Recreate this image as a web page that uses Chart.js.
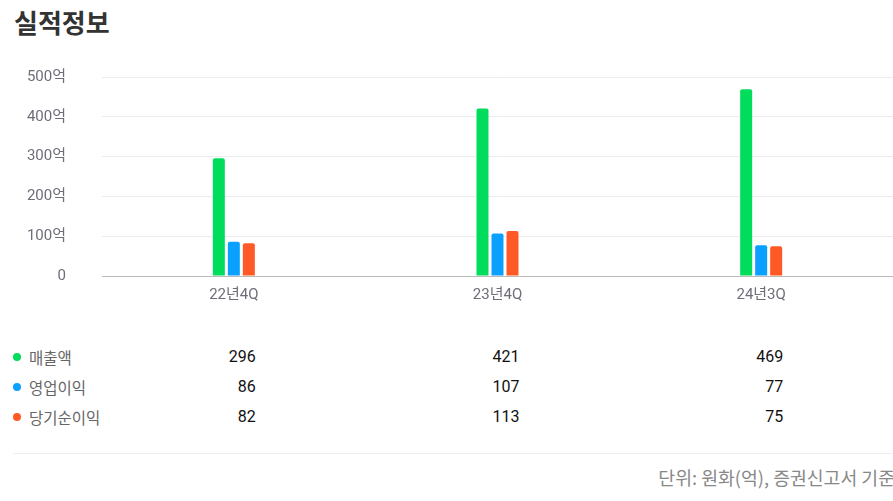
<!DOCTYPE html>
<html><head><meta charset="utf-8">
<script src="https://cdn.jsdelivr.net/npm/chart.js@4.4.1/dist/chart.umd.min.js"></script>
<style>
html,body{margin:0;padding:0;background:#fff;width:893px;height:501px;overflow:hidden;font-family:Roboto,"Noto Sans CJK KR",sans-serif;}
#wrap{position:relative;width:893px;height:501px;}
#title{position:absolute;left:14px;top:4px;font-family:"Noto Sans CJK KR",sans-serif;font-weight:700;font-size:26px;color:#333;margin:0;line-height:36px;}
#cv{position:absolute;left:0;top:0;}
.lab{position:absolute;left:29px;font-family:"Noto Sans CJK KR",sans-serif;font-size:15.5px;color:#666;line-height:20px;}
.dot{position:absolute;left:13px;width:8px;height:8px;border-radius:50%;}
.val{position:absolute;font-family:Roboto,sans-serif;font-size:16px;color:#111;line-height:20px;text-align:right;width:60px;}
#hr{position:absolute;left:13px;right:0;top:453px;height:1px;background:#eee;}
#foot{position:absolute;right:-2px;top:464px;font-family:"Noto Sans CJK KR",sans-serif;font-size:18.3px;color:#888;line-height:26px;white-space:nowrap;}
</style></head>
<body><div id="wrap">
<h2 id="title">실적정보</h2>
<canvas id="cv" width="893" height="321" style="width:893px;height:321px"></canvas>
<div id="table"></div>
<div id="hr"></div>
<div id="foot">단위: 원화(억), 증권신고서 기준</div>
</div>
<script>
const categories = ["22년4Q", "23년4Q", "24년3Q"];
const seriesNames = ["매출액", "영업이익", "당기순이익"];
const sales = [296, 421, 469];
const operatingProfit = [86, 107, 77];
const netIncome = [82, 113, 75];
const colors = ["#00dd5c", "#0aa0ff", "#ff5a26"];
const yTicks = [0, 100, 200, 300, 400, 500];

const seriesData = [sales, operatingProfit, netIncome];

const chart = new Chart(document.getElementById('cv'), {
  type: 'bar',
  data: {
    labels: categories,
    datasets: seriesData.map((d, i) => ({
      label: seriesNames[i],
      data: d,
      backgroundColor: colors[i],
      borderRadius: {topLeft: 2, topRight: 2},
      borderSkipped: 'bottom',
      categoryPercentage: 0.1707,
      barPercentage: 0.8
    }))
  },
  options: {
    responsive: false,
    animation: false,
    devicePixelRatio: 1,
    layout: {padding: {top: 77, right: 0, bottom: 0, left: 0}},
    plugins: {legend: {display: false}, tooltip: {enabled: false}, title: {display: false}},
    scales: {
      x: {
        grid: {display: false, drawTicks: false},
        border: {display: true, color: '#bbb', width: 1},
        ticks: {color: '#6e6e78', font: {family: 'Roboto, "Noto Sans CJK KR"', size: 15}, padding: 10},
        afterFit: s => { s.height = 30; }
      },
      y: {
        min: 0, max: 500,
        afterBuildTicks: s => { s.ticks = yTicks.map(v => ({value: v})); },
        grid: {color: c => c.tick && c.tick.value === 0 ? '#bbb' : '#ececef', drawTicks: false, lineWidth: 1},
        border: {display: false},
        ticks: {
          color: '#6e6e78', padding: 36,
          font: {family: 'Roboto, "Noto Sans CJK KR"', size: 15},
          callback: v => v === 0 ? '0' : v + '억'
        },
        afterFit: s => { s.width = 102; }
      }
    }
  }
});

// table built from the same data, positioned from the library's x scale
const table = document.getElementById('table');
const rowY = [347, 377, 407];
seriesNames.forEach((name, r) => {
  const dot = document.createElement('div');
  dot.className = 'dot';
  dot.style.top = (rowY[r] + 6) + 'px';
  dot.style.background = colors[r];
  table.appendChild(dot);
  const lab = document.createElement('div');
  lab.className = 'lab';
  lab.style.top = rowY[r] + 'px';
  lab.textContent = name;
  table.appendChild(lab);
  categories.forEach((c, i) => {
    const x = chart.scales.x.getPixelForValue(i);
    const v = document.createElement('div');
    v.className = 'val';
    v.style.top = rowY[r] + 'px';
    v.style.left = (x + 22 - 60) + 'px';
    v.textContent = seriesData[r][i];
    table.appendChild(v);
  });
});
</script>
</body></html>
